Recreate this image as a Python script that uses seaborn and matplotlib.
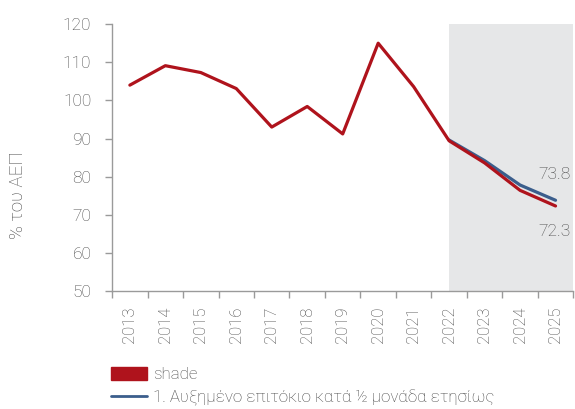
import numpy as np
import pandas as pd
import matplotlib
matplotlib.use("Agg")
import matplotlib.pyplot as plt
import seaborn as sns
from matplotlib.patches import Patch
from matplotlib.lines import Line2D

years = ["2013", "2014", "2015", "2016", "2017", "2018", "2019",
         "2020", "2021", "2022", "2023", "2024", "2025"]
baseline = [104.0, 109.1, 107.3, 103.1, 93.0, 98.4, 91.2,
            115.0, 103.6, 89.4, 83.6, 76.4, 72.3]
scenario_years = ["2022", "2023", "2024", "2025"]
scenario = [89.6, 84.2, 77.8, 73.8]
shade_start = "2022"

red = "#AF131C"
blue = "#3B5E8C"
grey = "#474747"

sns.set_style("white")
plt.rcParams["font.family"] = ["Roboto", "DejaVu Sans"]
plt.rcParams["font.weight"] = "light"
plt.rcParams["axes.labelweight"] = "light"

pos = {y: i for i, y in enumerate(years)}
df_base = pd.DataFrame({"x": [pos[y] for y in years], "v": baseline})
df_scen = pd.DataFrame({"x": [pos[y] for y in scenario_years], "v": scenario})

fig = plt.figure(figsize=(5.75, 4.09), dpi=100)
ax = fig.add_axes([0.195, 0.2885, 0.802, 0.6525])

ax.axvspan(pos[shade_start], len(years) - 0.5, color="#E6E7E8", lw=0, zorder=0)
sns.lineplot(data=df_scen, x="x", y="v", color=blue, lw=2.3, ax=ax, zorder=2)
sns.lineplot(data=df_base, x="x", y="v", color=red, lw=2.3, ax=ax, zorder=3)

ax.set_xlim(-0.5, len(years) - 0.5)
ax.set_ylim(50, 120)
ax.set_yticks(range(50, 121, 10))
ax.set_xticks(range(len(years)))
ax.set_xticklabels(years, rotation=90)
ax.set_xticks(np.arange(-0.5, len(years), 1), minor=True)
ax.tick_params(axis="x", which="major", length=0, pad=11, labelsize=12, labelcolor=grey)
ax.tick_params(axis="x", which="minor", length=5, color="#9a9a9a", width=1, direction="out", bottom=True)
ax.tick_params(axis="y", length=5, color="#9a9a9a", width=1, pad=10, labelsize=12.5, labelcolor=grey, left=True)
ax.set_xlabel("")
ax.set_ylabel("% του ΑΕΠ", fontsize=13.5, color=grey, fontweight="light")
ax.yaxis.set_label_coords(-0.184, 0.36)

for side in ["top", "right"]:
    ax.spines[side].set_visible(False)
for side in ["left", "bottom"]:
    ax.spines[side].set_color("#9a9a9a")
    ax.spines[side].set_linewidth(1)

ax.text(len(years) - 0.57, scenario[-1] + 4.7, f"{scenario[-1]:.1f}", ha="right", va="bottom",
        fontsize=12.5, color=grey)
ax.text(len(years) - 0.57, baseline[-1] - 4.8, f"{baseline[-1]:.1f}", ha="right", va="top",
        fontsize=12.5, color=grey)

handles = [Patch(facecolor=red, edgecolor=red),
           Line2D([0], [0], color=blue, lw=2)]
labels = ["shade", "1. Αυξημένο επιτόκιο κατά ½ μονάδα ετησίως"]
fig.legend(handles, labels, loc="upper left", bbox_to_anchor=(0.193, 0.103), frameon=False,
           fontsize=12.2, labelcolor=grey, handlelength=2.1, handleheight=0.8, handletextpad=0.4,
           labelspacing=0.45, borderaxespad=0, borderpad=0)

fig.savefig("out.png", dpi=100)
